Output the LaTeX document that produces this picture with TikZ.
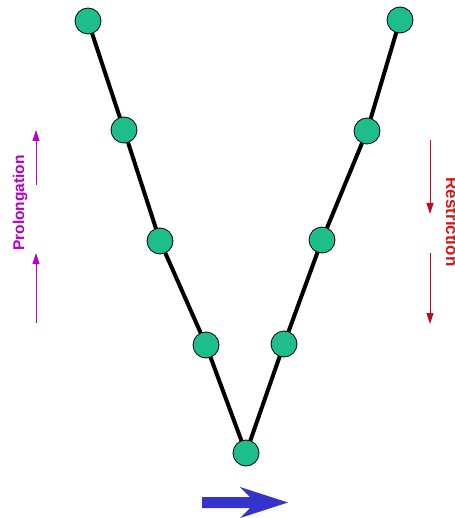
\documentclass[tikz,border=0pt]{standalone}
\usepackage{fontspec}
\setmainfont{Liberation Sans}
\usetikzlibrary{arrows.meta}
\definecolor{nodegreen}{RGB}{30,190,140}
\definecolor{prolmag}{RGB}{178,0,200}
\definecolor{restred}{RGB}{220,20,20}
\definecolor{arrred}{RGB}{190,10,40}
\definecolor{bluearr}{RGB}{52,52,204}
\tikzset{
  gridpt/.style={circle, fill=nodegreen, draw=black, line width=0.8pt, minimum size=26pt, inner sep=0pt},
  vline/.style={line width=4pt, black},
  prolarrow/.style={draw=prolmag, line width=1pt, -{Triangle[length=11pt,width=7pt]}},
  restarrow/.style={draw=arrred, line width=1pt, -{Triangle[length=11pt,width=7pt]}},
}
\begin{document}
\begin{tikzpicture}[x=1pt,y=-1pt]
\useasboundingbox (0,0) rectangle (454,518);
\clip (0,0) rectangle (454,518);
% coordinates of grid levels
\coordinate (l1) at (88,21);
\coordinate (l2) at (124,130);
\coordinate (l3) at (160,241);
\coordinate (l4) at (206,345);
\coordinate (b) at (246,453);
\coordinate (r4) at (284,344);
\coordinate (r3) at (322,240);
\coordinate (r2) at (367,131);
\coordinate (r1) at (400,20);
\draw[vline] (l1) -- (l2) -- (l3) -- (l4) -- (b) -- (r4) -- (r3) -- (r2) -- (r1);
\foreach \n in {l1,l2,l3,l4,b,r4,r3,r2,r1} \node[gridpt] (n\n) at (\n) {};
% prolongation
\coordinate (pa1) at (36,185); \coordinate (pa2) at (36,130);
\coordinate (pb1) at (36,323); \coordinate (pb2) at (36,253);
\draw[prolarrow] (pa1) -- (pa2);
\draw[prolarrow] (pb1) -- (pb2);
\node[rotate=90, anchor=base, inner sep=0pt, text=prolmag, font=\bfseries\fontsize{15.5}{16}\selectfont] (prol) at (24,203) {Prolongation};
% restriction
\coordinate (ra1) at (430,140); \coordinate (ra2) at (430,214);
\coordinate (rb1) at (430,253); \coordinate (rb2) at (430,324);
\draw[restarrow] (ra1) -- (ra2);
\draw[restarrow] (rb1) -- (rb2);
\node[rotate=-90, anchor=base, inner sep=0pt, text=restred, font=\bfseries\fontsize{17}{18}\selectfont] (rest) at (446,222) {Restriction};
% blue arrow
\fill[bluearr] (202,497) -- (250,497) -- (240,487) -- (288,502.5) -- (240,518) -- (250,508) -- (202,508) -- cycle;
\end{tikzpicture}
\end{document}
